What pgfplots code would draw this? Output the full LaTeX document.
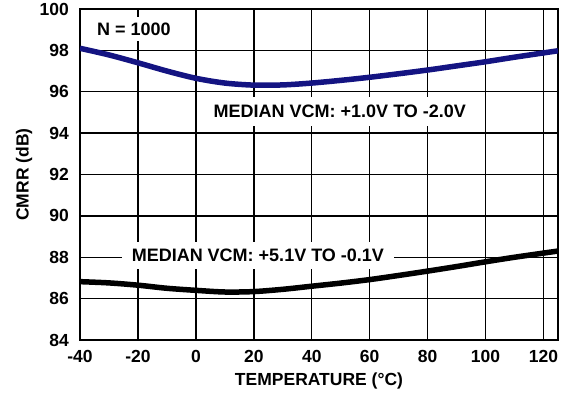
\documentclass[border=0pt]{standalone}
\usepackage{pgfplots}
\pgfplotsset{compat=1.18}
\usepackage{fontspec}
\setmainfont{Liberation Sans}
\definecolor{navy}{RGB}{20,20,130}
\begin{document}
\begin{tikzpicture}
\path[use as bounding box] (-80pt,-58pt) rectangle (494pt,340pt);
\begin{axis}[
  scale only axis,
  width=478pt, height=331pt,
  xmin=-40, xmax=125, ymin=84, ymax=100,
  xtick={-40,-20,...,120}, ytick={84,86,...,100},
  grid=major,
  major grid style={black, line width=1.4pt},
  axis line style={black, line width=1.6pt},
  major tick length=0pt,
  /pgf/number format/assume math mode=true,
  tick label style={font=\fontsize{17.5}{19}\selectfont\bfseries, inner sep=0pt},
  xticklabel style={anchor=base, yshift=-23pt},
  yticklabel style={anchor=east, xshift=-11pt},
  label style={font=\fontsize{17.5}{19}\selectfont\bfseries},
  xlabel={TEMPERATURE (°C)},
  ylabel={CMRR (dB)},
  xlabel style={at={(axis description cs:0.5,-0.124)}, anchor=center},
  ylabel style={at={(axis description cs:-0.117,0.5)}, anchor=center},
]
\addplot[navy, line width=5.5pt, smooth] coordinates {
(-40,98.1) (-30,97.78) (-20,97.4) (-10,97.0) (0,96.65) (10,96.42) (20,96.32) (30,96.33) (40,96.42) (50,96.55) (60,96.7) (70,96.87) (80,97.05) (90,97.25) (100,97.45) (110,97.67) (125,97.98)
};
\addplot[black, line width=5.5pt, smooth] coordinates {
(-40,86.82) (-30,86.76) (-20,86.65) (-10,86.5) (0,86.4) (10,86.32) (20,86.34) (30,86.45) (40,86.6) (50,86.75) (60,86.92) (70,87.12) (80,87.33) (90,87.55) (100,87.78) (110,88.0) (125,88.3)
};
\node[fill=white, inner xsep=10pt, inner ysep=6pt, font=\fontsize{18}{20}\selectfont\bfseries] at (axis cs:-21.4,99.03) {N = 1000};
\node[fill=white, inner xsep=12pt, inner ysep=8.5pt, font=\fontsize{18}{20}\selectfont\bfseries] at (axis cs:49.7,95.05) {MEDIAN VCM: +1.0V TO -2.0V};
\node[fill=white, inner xsep=10pt, inner ysep=7pt, font=\fontsize{18}{20}\selectfont\bfseries] at (axis cs:21.4,88.1) {MEDIAN VCM: +5.1V TO -0.1V};
\end{axis}
\end{tikzpicture}
\end{document}
